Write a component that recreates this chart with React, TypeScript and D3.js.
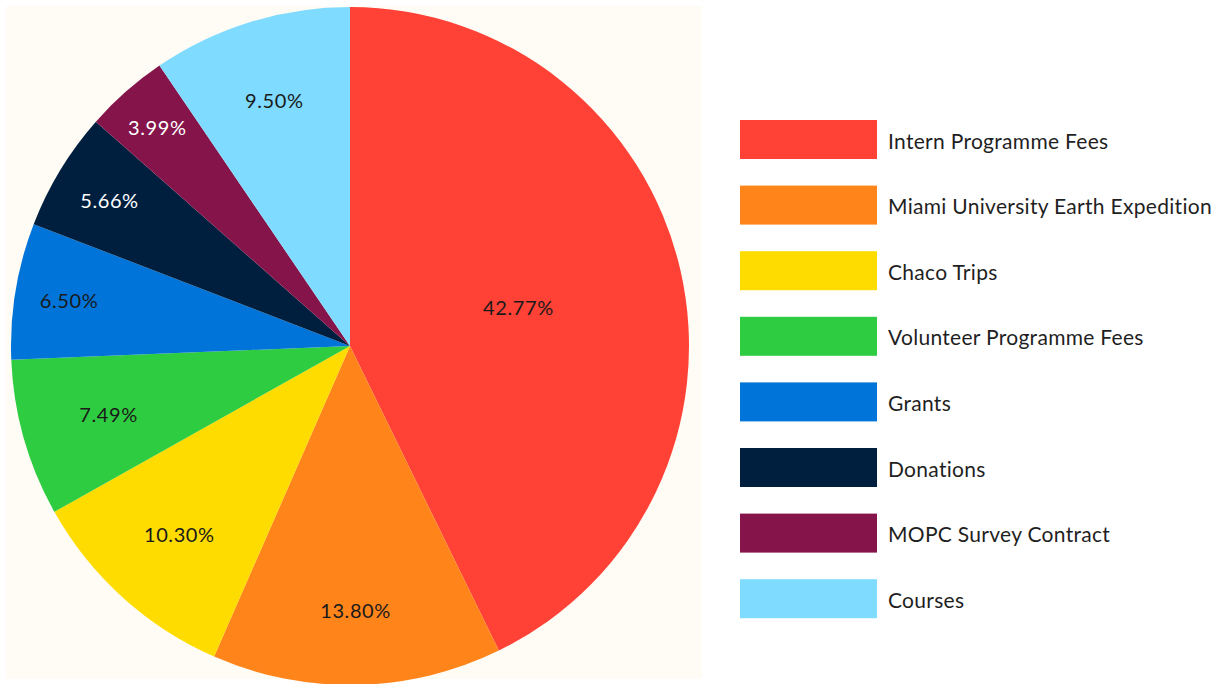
/**
 * Income breakdown pie — D3.js
 */
import { useEffect, useRef } from 'react';
import * as d3 from 'd3';

const categories = [
  'Intern Programme Fees',
  'Miami University Earth Expedition',
  'Chaco Trips',
  'Volunteer Programme Fees',
  'Grants',
  'Donations',
  'MOPC Survey Contract',
  'Courses',
];
const shares = [42.77, 13.8, 10.3, 7.49, 6.5, 5.66, 3.99, 9.5];
const sliceColors = ['#FF4136', '#FF851B', '#FFDC00', '#2ECC40', '#0074D9', '#001F3F', '#85144B', '#7FDBFF'];
const labelColors = ['#1a1a1a', '#1a1a1a', '#1a1a1a', '#1a1a1a', '#1a1a1a', '#ffffff', '#ffffff', '#1a1a1a'];
// label distance from centre, as a fraction of the radius (Excel "best fit" look)
const labelRadius = [0.51, 0.78, 0.75, 0.74, 0.84, 0.83, 0.86, 0.76];

const WIDTH = 1232;
const HEIGHT = 684;
const FONT = 'Lato, "Open Sans", sans-serif';

export default function App() {
  const svgRef = useRef<SVGSVGElement>(null);

  useEffect(() => {
    if (!svgRef.current) return;
    const svg = d3.select(svgRef.current);
    svg.selectAll('*').remove();

    svg.append('rect').attr('width', WIDTH).attr('height', HEIGHT).attr('fill', '#ffffff');
    // cream plot area
    svg.append('rect')
      .attr('x', 6).attr('y', 6).attr('width', 696).attr('height', 673)
      .attr('fill', '#fefcf5');

    const cx = 350;
    const cy = 346;
    const r = 339;

    const pie = d3.pie<number>().sort(null).value((d) => d);
    const arcs = pie(shares);
    const arc = d3.arc<d3.PieArcDatum<number>>().innerRadius(0).outerRadius(r);

    const g = svg.append('g').attr('transform', `translate(${cx},${cy})`);

    g.selectAll('path.slice')
      .data(arcs)
      .enter()
      .append('path')
      .attr('class', 'slice')
      .attr('d', arc)
      .attr('fill', (_, i) => sliceColors[i]);

    g.selectAll('text.pct')
      .data(arcs)
      .enter()
      .append('text')
      .attr('class', 'pct')
      .attr('transform', (d, i) => {
        const lr = r * labelRadius[i];
        const c = d3.arc<d3.PieArcDatum<number>>().innerRadius(lr).outerRadius(lr).centroid(d);
        return `translate(${c[0]},${c[1]})`;
      })
      .attr('text-anchor', 'middle')
      .attr('dominant-baseline', 'central')
      .attr('fill', (_, i) => labelColors[i])
      .attr('font-family', FONT)
      .attr('font-size', '20px')
      .attr('letter-spacing', '0.6px')
      .text((d) => `${d.data.toFixed(2)}%`);

    // ── legend ──
    const legendY = d3.scalePoint<string>()
      .domain(categories)
      .range([120, 120 + 65.6 * (categories.length - 1)]);

    const legend = svg.append('g');
    const items = legend.selectAll('g.item')
      .data(categories)
      .enter()
      .append('g')
      .attr('class', 'item')
      .attr('transform', (d) => `translate(740,${legendY(d)})`);

    items.append('rect')
      .attr('width', 137)
      .attr('height', 39)
      .attr('fill', (_, i) => sliceColors[i]);

    items.append('text')
      .attr('x', 148)
      .attr('y', 20)
      .attr('dominant-baseline', 'central')
      .attr('fill', '#1f1f1f')
      .attr('font-family', FONT)
      .attr('font-size', '21px')
      .attr('letter-spacing', '0.3px')
      .text((d) => d);
  }, []);

  return (
    <svg
      ref={svgRef}
      width={WIDTH}
      height={HEIGHT}
      style={{ position: 'absolute', left: 0, top: 0, display: 'block' }}
    />
  );
}
